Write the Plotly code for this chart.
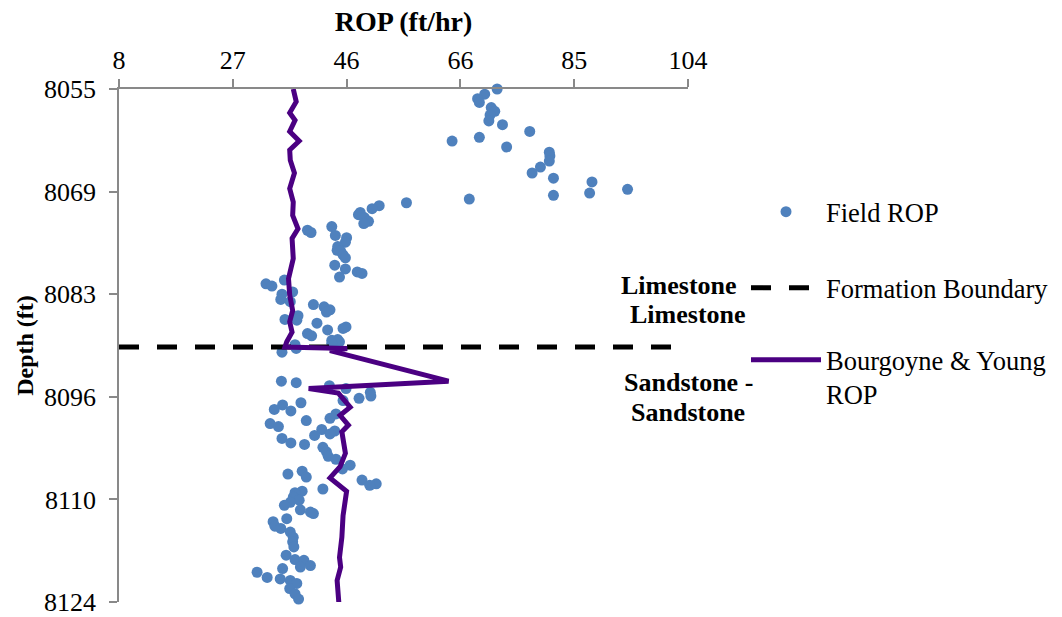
import plotly.graph_objects as go

# ---------------- data ----------------
field_rop = [71.8, 69.7, 68.5, 68.8, 70.8, 71.4, 70.6, 70.4, 72.7, 77.3,
             68.8, 64.2, 73.4, 80.6, 80.7, 80.6, 79.1, 77.7, 81.3, 87.8,
             93.8, 87.4, 81.3, 67.1, 56.5, 51.9, 50.7, 48.7, 48.4, 49.4,
             50.1, 49.3, 43.9, 39.8, 40.4, 44.5, 46.4, 46.2, 44.9, 44.8,
             45.4, 45.8, 46.2, 44.4, 46.2, 48.2, 49.0, 45.2, 35.9, 32.8,
             33.8, 37.3, 35.5, 35.3, 36.9, 40.8, 42.6, 43.6, 43.0, 38.2,
             36.0, 38.0, 41.4, 46.3, 45.8, 43.2, 39.8, 40.5, 44.9, 43.9,
             45.2, 43.9, 37.7, 37.9, 35.5,
             35.4, 37.9, 43.5, 46.3, 50.4, 50.5, 48.5, 45.8, 38.7, 35.6,
             34.2, 37.0, 44.6, 43.6, 39.6, 33.5, 34.9, 42.2, 44.4, 43.6,
             41.0, 35.5, 37.0, 39.3, 42.4, 43.0, 43.3, 44.6, 47.0, 45.7,
             38.9, 36.5, 39.6, 49.0, 51.4, 50.3, 42.4, 38.9, 37.7, 37.4,
             38.4, 36.9, 35.9, 38.6, 40.3, 40.8, 36.3, 34.0, 34.3, 35.3,
             36.9, 37.4, 37.3, 37.5, 36.2, 37.7, 39.2, 40.3, 38.6, 35.6,
             31.3, 33.0, 35.2, 36.9, 38.0, 36.8, 37.7, 38.3, 38.6]
field_depth = [8055.0, 8055.7, 8056.3, 8056.8, 8057.5, 8058.0, 8058.5, 8059.3, 8059.8, 8060.7,
               8061.5, 8062.0, 8062.8, 8063.5, 8064.0, 8064.7, 8065.5, 8066.3, 8067.0, 8067.5,
               8068.5, 8069.0, 8069.3, 8069.8, 8070.3, 8070.7, 8071.1, 8071.6, 8071.9, 8072.3,
               8072.8, 8073.1, 8073.5, 8074.0, 8074.3, 8074.7, 8075.0, 8075.6, 8076.2, 8076.7,
               8076.8, 8077.3, 8077.7, 8078.7, 8079.2, 8079.6, 8079.8, 8080.3, 8080.7, 8081.2,
               8081.5, 8082.3, 8082.6, 8083.3, 8083.6, 8084.0, 8084.3, 8084.7, 8085.0, 8085.5,
               8086.0, 8086.1, 8086.5, 8087.0, 8087.2, 8087.4, 8087.9, 8088.2, 8088.7, 8088.8,
               8089.0, 8089.2, 8089.4, 8089.9, 8090.4,
               8094.3, 8094.5, 8094.9, 8095.3, 8095.8, 8096.3, 8096.6, 8096.9, 8097.2, 8097.5,
               8098.1, 8098.3, 8098.7, 8099.3, 8099.6, 8100.0, 8100.4, 8100.8, 8101.0, 8101.4,
               8101.6, 8102.0, 8102.6, 8102.8, 8103.2, 8103.8, 8104.4, 8104.8, 8105.6, 8106.1,
               8106.4, 8106.8, 8107.2, 8107.6, 8108.1, 8108.3, 8108.8, 8109.1, 8109.3, 8109.9,
               8110.3, 8110.6, 8111.0, 8111.6, 8111.9, 8112.1, 8112.8, 8113.2, 8113.8, 8114.1,
               8114.6, 8115.3, 8115.9, 8116.6, 8117.7, 8118.3, 8118.4, 8119.1, 8119.3, 8119.5,
               8120.0, 8120.7, 8120.9, 8121.1, 8121.5, 8122.2, 8122.9, 8123.6, 8124.2]

by_rop = [37.4, 37.9, 36.8, 37.7, 36.8, 38.4, 36.8, 36.9, 37.6, 36.8,
          37.4, 37.3, 38.2, 37.2, 37.4, 36.6, 36.8, 37.3, 36.8, 37.2,
          36.3, 36.0, 46.5, 43.6, 63.6, 40.0, 45.0, 47.0, 45.3, 46.7,
          45.6, 46.2, 45.3, 43.6, 46.4, 45.8, 45.6, 45.2, 45.4, 44.8, 45.1]
by_depth = [8055.0, 8056.7, 8058.2, 8059.2, 8060.7, 8062.0, 8063.2, 8064.6, 8066.3, 8068.4,
            8070.2, 8072.0, 8073.8, 8075.1, 8077.8, 8080.5, 8082.7, 8084.8, 8086.3, 8087.7,
            8089.0, 8089.7, 8089.9, 8090.2, 8094.3, 8095.3, 8095.9, 8097.8, 8098.9, 8100.2,
            8101.1, 8104.0, 8105.8, 8107.3, 8109.1, 8112.4, 8115.3, 8118.0, 8119.3, 8121.1, 8124.2]

boundary_rop = [8, 101.2]
boundary_depth = [8089.7, 8089.7]

x_tickvals = [8, 27.2, 46.4, 65.6, 84.8, 104]
x_ticktext = ["8", "27", "46", "66", "85", "104"]
y_tickvals = [8055, 8068.8, 8082.6, 8096.4, 8110.2, 8124]
y_ticktext = ["8055", "8069", "8083", "8096", "8110", "8124"]

FONT = "Liberation Serif, Times New Roman, serif"
AXIS_GREY = "#898989"

fig = go.Figure()
fig.add_trace(go.Scatter(
    x=field_rop, y=field_depth, mode="markers", name="Field ROP",
    marker=dict(color="#4F81BD", size=11), cliponaxis=False, legend="legend"))
fig.add_trace(go.Scatter(
    x=boundary_rop, y=boundary_depth, mode="lines", name="Formation Boundary",
    line=dict(color="black", width=5, dash="20px,18px"), cliponaxis=False, legend="legend2"))
fig.add_trace(go.Scatter(
    x=by_rop, y=by_depth, mode="lines", name="Bourgoyne & Young<br>ROP",
    line=dict(color="#4B0082", width=5), cliponaxis=False, legend="legend3"))

def px2paper(px, py):
    return (px - 119) / 569, (602 - py) / 513

leg_common = dict(font=dict(family=FONT, size=26.5, color="black"), bgcolor="rgba(0,0,0,0)",
                  borderwidth=0, itemwidth=70, xanchor="left", yanchor="middle")
lx, _ = px2paper(746, 0)
fig.update_layout(
    legend=dict(x=lx, y=px2paper(0, 212)[1], **leg_common),
    legend2=dict(x=lx, y=px2paper(0, 288)[1], **leg_common),
    legend3=dict(x=lx, y=px2paper(0, 377)[1], valign="top", **leg_common),
)

annos = [("Limestone", 679, 285), ("Limestone", 687.5, 314),
         ("Sandstone -", 688, 382), ("Sandstone", 688, 412)]
for txt, ax_, ay_ in annos:
    px_, py_ = px2paper(ax_, ay_)
    fig.add_annotation(x=px_, y=py_, xref="paper", yref="paper", text="<b>%s</b>" % txt,
                       showarrow=False, xanchor="center", yanchor="middle",
                       font=dict(family=FONT, size=26, color="black"))

fig.update_layout(
    width=1062, height=617,
    margin=dict(l=119, r=374, t=89, b=15, autoexpand=False),
    paper_bgcolor="white", plot_bgcolor="white",
    font=dict(family=FONT, size=26, color="black"),
    showlegend=True,
    xaxis=dict(side="top", range=[8, 104], tickvals=x_tickvals, ticktext=x_ticktext,
               showgrid=False, zeroline=False, showline=True, linecolor=AXIS_GREY, linewidth=1.5,
               ticks="outside", ticklen=8, tickwidth=1.5, tickcolor=AXIS_GREY,
               tickfont=dict(family=FONT, size=26, color="black"), automargin=False,
               title=dict(text="<b>ROP (ft/hr)</b>", font=dict(family=FONT, size=28, color="black"),
                          standoff=6)),
    yaxis=dict(range=[8124, 8055], tickvals=y_tickvals, ticktext=y_ticktext,
               showgrid=False, zeroline=False, showline=True, linecolor=AXIS_GREY, linewidth=1.5,
               ticks="outside", ticklen=8, tickwidth=1.5, tickcolor=AXIS_GREY,
               tickfont=dict(family=FONT, size=26, color="black"), ticklabelstandoff=8,
               ticklabeloverflow="allow", automargin=False,
               title=dict(text="<b>Depth (ft)</b>", font=dict(family=FONT, size=24, color="black"),
                          standoff=4)),
)

fig.write_html("out.html")
